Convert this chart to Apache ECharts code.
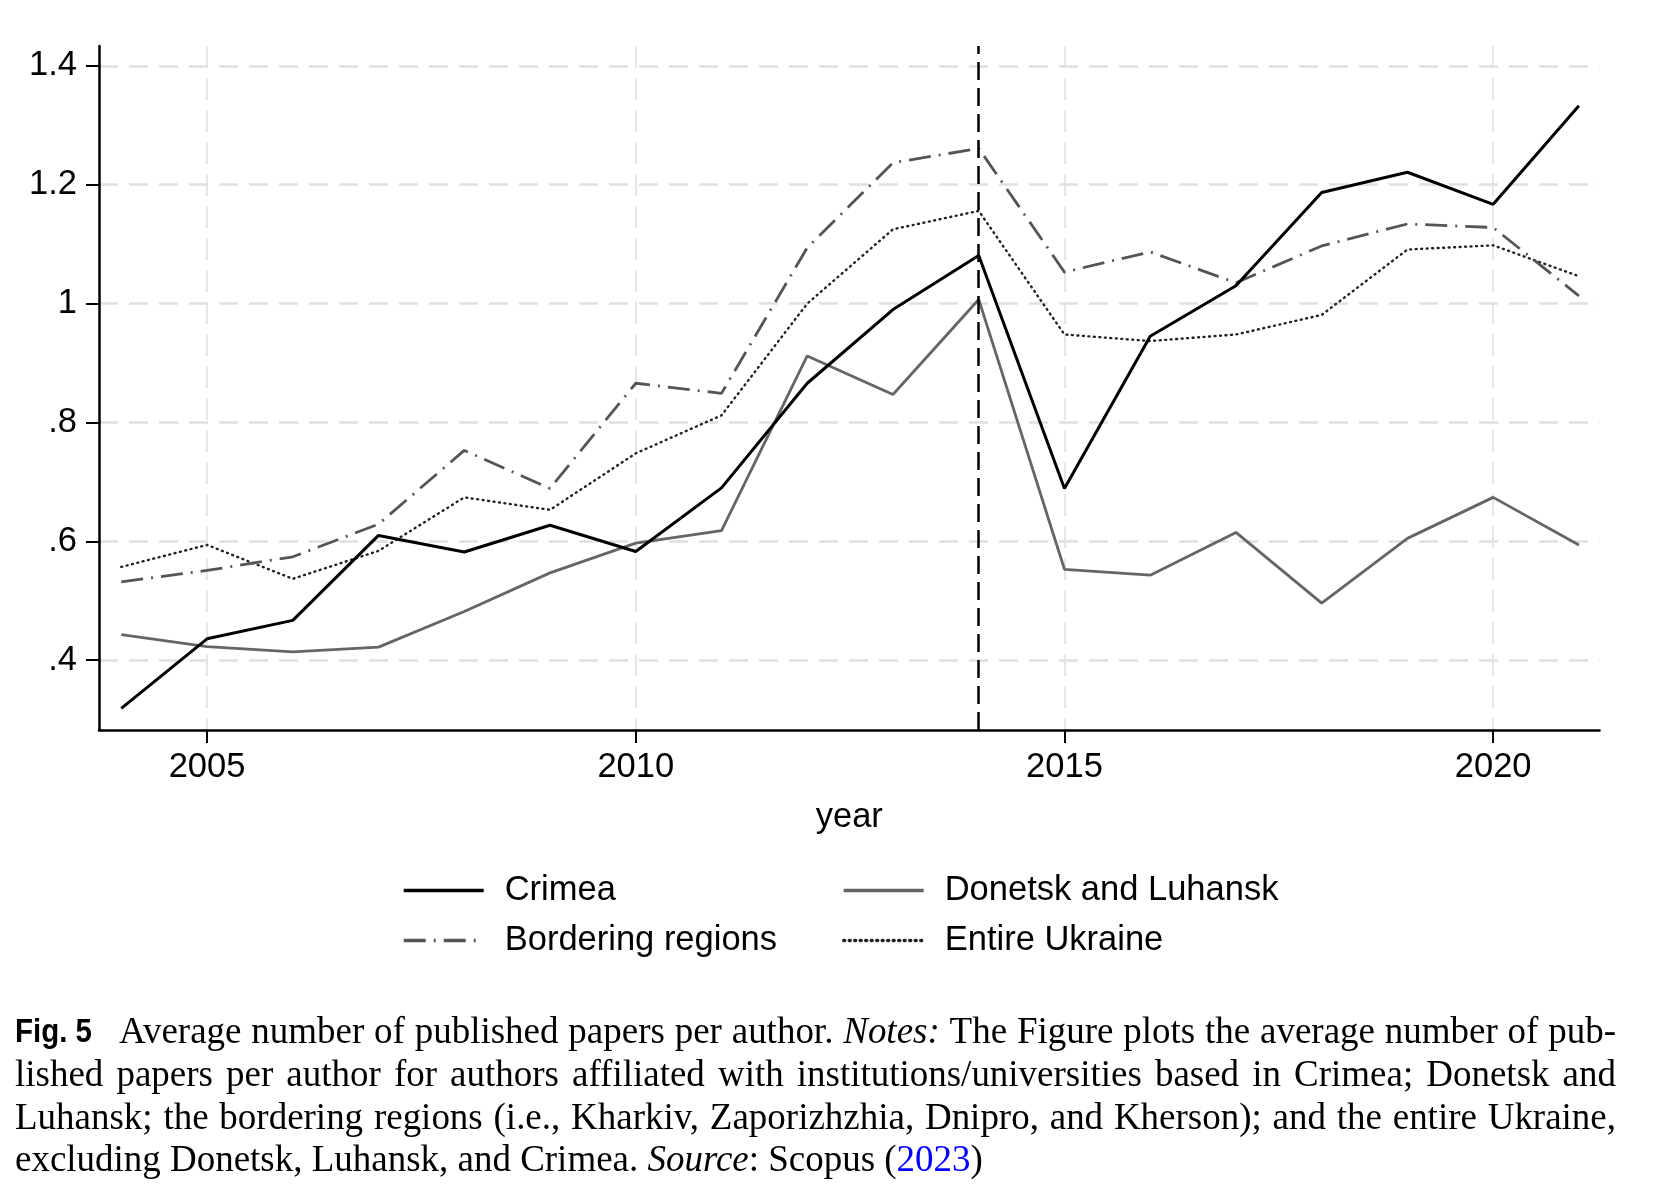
<!DOCTYPE html>
<html><head><meta charset="utf-8">
<script src="https://cdn.jsdelivr.net/npm/echarts@6/dist/echarts.min.js"></script>
<style>html,body{margin:0;padding:0;background:#fff}#chart{width:1666px;height:1196px}</style>
</head><body><div id="chart"></div>
<script>
// ---------------- data ----------------
const years = [2004,2005,2006,2007,2008,2009,2010,2011,2012,2013,2014,2015,2016,2017,2018,2019,2020,2021];
const crimea = [0.319,0.436,0.467,0.610,0.582,0.627,0.583,0.690,0.866,0.990,1.081,0.689,0.945,1.030,1.187,1.221,1.167,1.333];
const donetskLuhansk = [0.443,0.423,0.414,0.422,0.482,0.547,0.597,0.618,0.912,0.847,1.007,0.553,0.543,0.615,0.496,0.605,0.674,0.594];
const borderingRegions = [0.532,0.551,0.574,0.629,0.753,0.689,0.866,0.849,1.094,1.237,1.261,1.053,1.087,1.035,1.097,1.134,1.128,1.013];
const entireUkraine = [0.557,0.594,0.537,0.584,0.674,0.653,0.748,0.812,1.000,1.125,1.156,0.948,0.937,0.948,0.981,1.091,1.098,1.046];
const xTickValues = [2005,2010,2015,2020];
const yTickValues = [0.4,0.6,0.8,1.0,1.2,1.4];
const eventYear = 2014;
const xAxisTitle = 'year';
const legendLeftColumn = ['Crimea','Bordering regions'];
const legendRightColumn = ['Donetsk and Luhansk','Entire Ukraine'];
const captionLabel = 'Fig. 5';
const captionLines = [
  'Average number of published papers per author. *Notes:* The Figure plots the average number of pub-',
  'lished papers per author for authors affiliated with institutions/universities based in Crimea; Donetsk and',
  'Luhansk; the bordering regions (i.e., Kharkiv, Zaporizhzhia, Dnipro, and Kherson); and the entire Ukraine,',
  'excluding Donetsk, Luhansk, and Crimea. *Source*: Scopus ([2023])'
];

// ---------------- layout / style ----------------
const SANS = '"Liberation Sans", Arial, Helvetica, sans-serif';
const SERIF = '"Liberation Serif", "Times New Roman", serif';
const FS = 34.5;
const chart = echarts.init(document.getElementById('chart'), null, {renderer: 'canvas'});

const pairs = arr => years.map((y, i) => [y, arr[i]]);

// caption layout (justified text)
const mctx = document.createElement('canvas').getContext('2d');
function fontStr(s, size) { return (s === 'i' ? 'italic ' : '') + size + 'px ' + SERIF; }
function measure(t, f) { mctx.font = f; return mctx.measureText(t).width; }
function parseWord(w) {
  return w.split(/(\*[^*]+\*|\[[^\]]+\])/).filter(s => s).map(p =>
    p[0] === '*' ? {t: p.slice(1, -1), s: 'i'} : p[0] === '[' ? {t: p.slice(1, -1), s: 'b'} : {t: p, s: 'n'});
}
function wordWidth(wd, size) { return wd.reduce((a, r) => a + measure(r.t, fontStr(r.s, size)), 0); }
const parsed = captionLines.map(l => l.split(' ').map(parseWord));
const lastLine = parsed[parsed.length - 1];
const natW = lastLine.reduce((a, wd) => a + wordWidth(wd, 100), 0) + (lastLine.length - 1) * measure(' ', fontStr('n', 100));
const capSize = 100 * 968 / natW;
const capLeft = 15, capRight = 1616, capY0 = 1033, capDY = 42.9;
// "Fig. 5" label: bold condensed sans (horizontally squeezed to the reference width)
const figFont = 'bold 33px ' + SANS;
const figScaleX = Math.min(1, 77 / measure(captionLabel, figFont));
const graphics = [];
graphics.push({type: 'text', x: capLeft, y: capY0, scaleX: figScaleX, style: {text: captionLabel, font: figFont, fill: '#000', textAlign: 'left', textVerticalAlign: 'middle', align: 'left', verticalAlign: 'middle'}});
parsed.forEach((words, li) => {
  const y = capY0 + li * capDY;
  const start = li === 0 ? 119 : capLeft;
  const widths = words.map(wd => wordWidth(wd, capSize));
  const total = widths.reduce((a, b) => a + b, 0);
  const justify = li < parsed.length - 1;
  const gap = justify ? (capRight - start - total) / (words.length - 1) : measure(' ', fontStr('n', capSize));
  let x = start;
  words.forEach((wd, wi) => {
    let rx = x;
    wd.forEach(r => {
      graphics.push({type: 'text', x: rx, y: y, style: {text: r.t, font: fontStr(r.s, capSize), fill: r.s === 'b' ? '#0000ff' : '#000', textAlign: 'left', textVerticalAlign: 'middle', align: 'left', verticalAlign: 'middle'}});
      rx += measure(r.t, fontStr(r.s, capSize));
    });
    x += widths[wi] + gap;
  });
});

const tickText = {fontFamily: SANS, fontSize: FS, color: '#000'};
const legendBase = {
  orient: 'vertical', top: 873, padding: 0, itemWidth: 80, itemHeight: 40, itemGap: 15, selectedMode: false,
  itemStyle: {opacity: 0},
  lineStyle: {width: 3.4},
  textStyle: {fontFamily: SANS, fontSize: FS, color: '#000', padding: [0, 0, 0, 16]}
};

const option = {
  animation: false,
  backgroundColor: '#fff',
  grid: {left: 99, right: 66.5, top: 46, bottom: 466, containLabel: false, outerBoundsMode: 'none'},
  xAxis: {
    type: 'value', min: 2003.74, max: 2021.24,
    name: xAxisTitle, nameLocation: 'middle', nameGap: 70,
    nameTextStyle: {fontFamily: SANS, fontSize: FS, color: '#000'},
    axisLine: {show: true, onZero: false, lineStyle: {color: '#000', width: 2.5}},
    axisTick: {show: true, length: 13, customValues: xTickValues, lineStyle: {color: '#000', width: 2}},
    axisLabel: Object.assign({customValues: xTickValues, margin: 20, formatter: v => String(Math.round(v))}, tickText),
    splitLine: {show: true, lineStyle: {type: [22, 10], color: '#e4e4e4', width: 1.8}}
  },
  yAxis: {
    type: 'value', min: 0.2826, max: 1.4334,
    axisLine: {show: true, onZero: false, lineStyle: {color: '#000', width: 2.5}},
    axisTick: {show: true, length: 13, customValues: yTickValues, lineStyle: {color: '#000', width: 2}},
    axisLabel: Object.assign({customValues: yTickValues, margin: 22, formatter: v => {
      const s = String(+(+v).toFixed(1)); return s.indexOf('0.') === 0 ? s.slice(1) : s; }}, tickText),
    splitLine: {show: true, lineStyle: {type: [19, 11], color: '#e0e0e0', width: 2.5}}
  },
  legend: [
    Object.assign({left: 402, data: legendLeftColumn}, legendBase),
    Object.assign({left: 842, data: legendRightColumn}, legendBase)
  ],
  graphic: graphics,
  series: [
    {name: 'Entire Ukraine', type: 'line', data: pairs(entireUkraine), symbol: 'none', z: 2,
     lineStyle: {color: '#222', width: 2.4, type: [1, 4.5], cap: 'round'}, emphasis: {disabled: true}},
    {name: 'Bordering regions', type: 'line', data: pairs(borderingRegions), symbol: 'none', z: 3,
     lineStyle: {color: '#555', width: 2.8, type: [22, 8, 2, 8]}, emphasis: {disabled: true}},
    {name: 'Donetsk and Luhansk', type: 'line', data: pairs(donetskLuhansk), symbol: 'none', z: 4,
     lineStyle: {color: '#656565', width: 2.8}, emphasis: {disabled: true}},
    {name: 'Crimea', type: 'line', data: pairs(crimea), symbol: 'none', z: 5,
     lineStyle: {color: '#000', width: 3}, emphasis: {disabled: true},
     markLine: {silent: true, symbol: 'none', label: {show: false}, animation: false,
       lineStyle: {color: '#000', width: 2.5, type: [18, 8]}, data: [{xAxis: eventYear}]}}
  ]
};
chart.setOption(option);
</script></body></html>
